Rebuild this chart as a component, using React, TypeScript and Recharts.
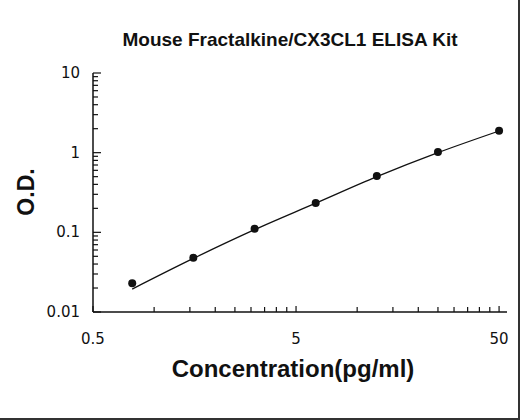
import { ComposedChart, Line, Scatter, XAxis, YAxis } from "recharts";

const concentration = [0.78, 1.56, 3.125, 6.25, 12.5, 25, 50];
const odMeasured = [0.023, 0.048, 0.111, 0.233, 0.51, 1.02, 1.89];
const odFit = [0.0194, 0.047, 0.108, 0.232, 0.5, 1.0, 1.87];

const xMajorTicks = [0.5, 5, 50];
const xMinorTicks = [1, 1.5, 2, 2.5, 3, 3.5, 4, 4.5, 10, 15, 20, 25, 30, 35, 40, 45];
const yMajorTicks = [0.01, 0.1, 1, 10];
const yMinorTicks = [
  0.02, 0.03, 0.04, 0.05, 0.06, 0.07, 0.08, 0.09,
  0.2, 0.3, 0.4, 0.5, 0.6, 0.7, 0.8, 0.9,
  2, 3, 4, 5, 6, 7, 8, 9,
];

const INK = "#111";
const TICK_FONT = "'DejaVu Sans', sans-serif";
const BOLD_FONT = "'Liberation Sans', Arial, sans-serif";

const points = concentration.map((x, i) => ({ x, y: odMeasured[i] }));
const fit = concentration.map((x, i) => ({ x, y: odFit[i] }));

const XTick = (props: any) => {
  const { x, y, payload } = props;
  const major = xMajorTicks.includes(payload.value);
  return (
    <g>
      <line x1={x} x2={x} y1={y} y2={y - (major ? 6 : 5)} stroke={INK} strokeWidth={1.2} />
      {major && (
        <text x={x} y={y + 32} textAnchor="middle" fontSize={15} fontFamily={TICK_FONT} fill={INK}>
          {payload.value}
        </text>
      )}
    </g>
  );
};

const YTick = (props: any) => {
  const { x, y, payload } = props;
  const major = yMajorTicks.includes(payload.value);
  return (
    <g>
      <line x1={x} x2={x + (major ? 8 : 5)} y1={y} y2={y} stroke={INK} strokeWidth={1.2} />
      {major && (
        <text x={x - 13} y={y + 5} textAnchor="end" fontSize={15} fontFamily={TICK_FONT} fill={INK}>
          {payload.value}
        </text>
      )}
    </g>
  );
};

export default function App() {
  return (
    <div style={{ position: "absolute", left: 0, top: 0, width: 520, height: 420, background: "#fff" }}>
      <div
        style={{
          position: "absolute", left: 0, top: 0, width: 520, height: 420, boxSizing: "border-box",
          borderRight: "2px solid #333", borderBottom: "2px solid #333",
        }}
      />
      <div
        style={{
          position: "absolute", left: 290, top: 29, transform: "translateX(-50%)", whiteSpace: "nowrap",
          fontFamily: BOLD_FONT, fontWeight: 700, fontSize: 19, lineHeight: "22px", color: INK,
        }}
      >
        Mouse Fractalkine/CX3CL1 ELISA Kit
      </div>
      <div
        style={{
          position: "absolute", left: 26, top: 192, transform: "translate(-50%, -50%) rotate(-90deg)",
          whiteSpace: "nowrap", fontFamily: BOLD_FONT, fontWeight: 700, fontSize: 23, lineHeight: "26px", color: INK,
        }}
      >
        O.D.
      </div>
      <div
        style={{
          position: "absolute", left: 293, top: 355, transform: "translateX(-50%)", whiteSpace: "nowrap",
          fontFamily: BOLD_FONT, fontWeight: 700, fontSize: 24, lineHeight: "28px", color: INK,
        }}
      >
        Concentration(pg/ml)
      </div>
      <ComposedChart
        width={520}
        height={420}
        margin={{ top: 73, right: 13, bottom: 78, left: 63 }}
        style={{ position: "absolute", left: 0, top: 0 }}
      >
        <XAxis
          dataKey="x"
          type="number"
          scale="log"
          domain={[0.5, 54.7]}
          allowDataOverflow
          ticks={[...xMajorTicks, ...xMinorTicks]}
          interval={0}
          height={30}
          tickSize={0}
          tickMargin={0}
          tick={<XTick />}
          axisLine={{ stroke: INK, strokeWidth: 1.5 }}
        />
        <YAxis
          dataKey="y"
          type="number"
          scale="log"
          domain={[0.01, 10]}
          allowDataOverflow
          ticks={[...yMajorTicks, ...yMinorTicks]}
          interval={0}
          width={30}
          tickSize={0}
          tickMargin={0}
          tick={<YTick />}
          axisLine={{ stroke: INK, strokeWidth: 1.5 }}
        />
        <Line
          data={fit}
          dataKey="y"
          type="monotone"
          stroke={INK}
          strokeWidth={1.3}
          dot={false}
          isAnimationActive={false}
        />
        <Scatter
          data={points}
          dataKey="y"
          fill={INK}
          shape={(p: any) => <circle cx={p.cx} cy={p.cy} r={4} fill={INK} />}
          isAnimationActive={false}
        />
      </ComposedChart>
    </div>
  );
}
